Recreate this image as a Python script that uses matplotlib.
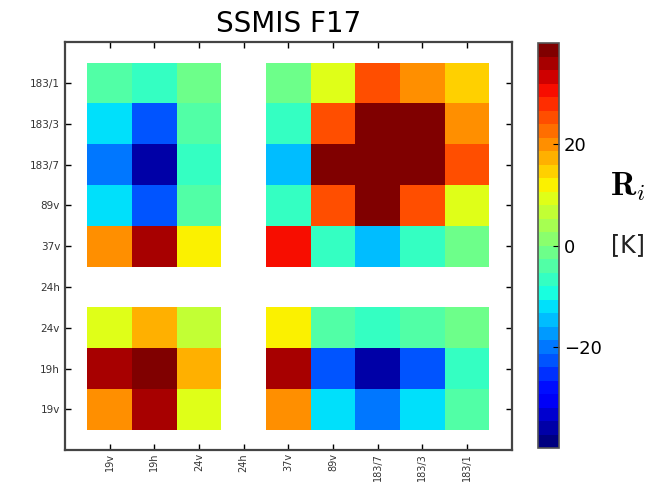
import numpy as np
import matplotlib
matplotlib.use('Agg')
import matplotlib.pyplot as plt

# canales (mismo orden en filas y columnas)
channels = ['19v', '19h', '24v', '24h', '37v', '89v', '183/7', '183/3', '183/1']

# R_i [K], filas de abajo (19v) hacia arriba (183/1); 24h vacío
row_19v = [19, 37, 8, np.nan, 19, -12.6, -21, -12.6, -3]
row_19h = [37, 40, 16.6, np.nan, 37, -23, -36.6, -23, -8]
row_24v = [8, 16.6, 6, np.nan, 11.4, -3, -6, -3, -1]
row_24h = [np.nan] * 9
row_37v = [19, 37, 11.4, np.nan, 30, -6, -15, -6, -1]
row_89v = [-12.6, -23, -3, np.nan, -6, 24, 40, 24, 8]
row_183_7 = [-21, -36.6, -6, np.nan, -15, 40, 40, 40, 24]
row_183_3 = [-12.6, -23, -3, np.nan, -6, 24, 40, 40, 19]
row_183_1 = [-3, -8, -1, np.nan, -1, 8, 24, 19, 14]

data = np.array([row_19v, row_19h, row_24v, row_24h, row_37v,
                 row_89v, row_183_7, row_183_3, row_183_1])
data = np.ma.masked_invalid(data)

fig = plt.figure(figsize=(6.59, 4.84), dpi=100)
ax = fig.add_axes([0.0986, 0.070, 0.678, 0.843])
cax = fig.add_axes([0.816, 0.074, 0.032, 0.837])

cmap = plt.get_cmap('jet', 30)
im = ax.pcolormesh(np.arange(-0.5, 9.5), np.arange(-0.5, 9.5), data,
                   cmap=cmap, vmin=-40, vmax=40)
ax.set_xlim(-1, 9)
ax.set_ylim(-1, 9)
ax.set_xticks(range(9))
ax.set_yticks(range(9))
ax.set_xticklabels(channels, rotation=90, fontsize=7, color='#333333')
ax.set_yticklabels(channels, fontsize=7.5, color='#333333')
ax.tick_params(direction='in', top=True, right=True, length=4, width=1)
ax.tick_params(axis='x', pad=2)
for s in ax.spines.values():
    s.set_linewidth(1.6)
    s.set_color('#444444')
ax.set_title('SSMIS F17', fontsize=20, pad=7)

cb = fig.colorbar(im, cax=cax, ticks=[-20, 0, 20])
cb.ax.tick_params(labelsize=13, direction='in', length=4)
cb.outline.set_linewidth(1.2)
cb.outline.set_edgecolor('#555555')

plt.rcParams['mathtext.fontset'] = 'cm'
fig.text(0.953, 0.615, r'$\mathbf{R}_{i}$', fontsize=24, ha='center', va='center')
fig.text(0.953, 0.493, '[K]', fontsize=17, ha='center', va='center', color='#222222')

fig.savefig('out.png', dpi=100)
